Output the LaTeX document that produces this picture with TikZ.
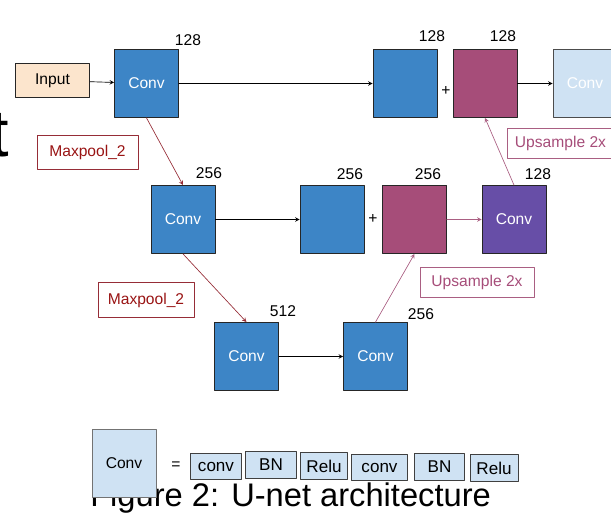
\documentclass[tikz,border=0pt]{standalone}
\usepackage{fontspec}
\setmainfont{Liberation Sans}
\definecolor{convblue}{RGB}{61,133,198}
\definecolor{addpink}{RGB}{166,77,121}
\definecolor{uppurple}{RGB}{103,78,167}
\definecolor{paleblue}{RGB}{207,226,243}
\definecolor{peach}{RGB}{252,229,205}
\definecolor{poolred}{RGB}{153,20,20}
\definecolor{poolline}{RGB}{150,45,55}
\definecolor{upline}{RGB}{170,95,130}

\begin{document}
\begin{tikzpicture}[x=0.75pt, y=-0.75pt, line cap=round, line join=round, >=stealth,
    txt/.style={font=\fontsize{11.7pt}{14pt}\selectfont},
    block/.style={draw=black!85, line width=0.6pt, minimum width=48pt, minimum height=51pt,
      inner sep=0pt, txt, text=white, fill=convblue},
    tag/.style={draw, line width=0.6pt, minimum height=26pt, inner sep=0pt, txt},
    num/.style={txt, inner sep=0pt},
    layer/.style={draw=black!75, fill=paleblue, line width=0.6pt, minimum width=38pt,
      minimum height=20pt, inner sep=0pt, font=\fontsize{12.8pt}{15pt}\selectfont}]
    \useasboundingbox (0,0) rectangle (611,513);

    \node[anchor=base east, inner sep=0pt, font=\fontsize{50pt}{50pt}\selectfont] (bigt) at (9,157) {t};

    \node[tag, draw=black!85, fill=peach, minimum width=56pt] (input) at (52.5,80.5) {Input};
    \node[block] (c1) at (146.5,83.5) {Conv};
    \node[block] (skip1) at (405,83.5) {};
    \node[block, fill=addpink] (add1) at (485,83.5) {};
    \node[block, fill=paleblue, draw=black!70] (out) at (585,83.5) {Conv};

    \node[block] (c2) at (183,219.5) {Conv};
    \node[block] (skip2) at (332,219.5) {};
    \node[block, fill=addpink] (add2) at (414.5,219.5) {};
    \node[block, fill=uppurple] (c5) at (514,219.5) {Conv};

    \node[block] (c3) at (246.5,356.5) {Conv};
    \node[block] (c4) at (375.5,356.5) {Conv};

    \node[num] (n1) at (188,40) {128};
    \node[num] (n2) at (432,36) {128};
    \node[num] (n3) at (503,36) {128};
    \node[num] (n4) at (209,173) {256};
    \node[num] (n5) at (350,174) {256};
    \node[num] (n6) at (428,174) {256};
    \node[num] (n7) at (538,174) {128};
    \node[num] (n8) at (283,311) {512};
    \node[num] (n9) at (421,314) {256};

    \node[num] (plus1) at (446,91) {+};
    \node[num] (plus2) at (373,219) {+};

    \node[tag, draw=poolline, text=poolred, minimum width=75.75pt] (pool1) at (87.5,152.5) {Maxpool\_2};
    \node[tag, draw=poolline, text=poolred, minimum width=72pt] (pool2) at (146,300) {Maxpool\_2};
    \node[tag, draw=upline, text=addpink, minimum width=80pt, minimum height=22.5pt] (up1) at (560.5,143) {Upsample 2x};
    \node[tag, draw=upline, text=addpink, minimum width=85.5pt, minimum height=22pt] (up2) at (477,282.5) {Upsample 2x};

    \draw[->, line width=0.5pt] (input) -- (c1);
    \draw[->, line width=0.5pt] (c1) -- (skip1);
    \draw[->, line width=0.5pt] (add1) -- (out);
    \draw[->, line width=0.5pt] (c2) -- (skip2);
    \draw[->, line width=0.5pt, upline] (add2) -- (c5);
    \draw[->, line width=0.5pt] (c3) -- (c4);

    \draw[->, line width=0.5pt, poolline] (c1.south) -- (c2.north);
    \draw[->, line width=0.5pt, poolline] (c2.south) -- (c3.north);
    \draw[->, line width=0.5pt, upline] (c4.north) -- (add2.south);
    \draw[->, line width=0.5pt, upline] (c5.north) -- (add1.south);

    \node[anchor=base west, inner sep=0pt, font=\fontsize{24.5pt}{28pt}\selectfont] (caption) at (90,507) {Figure 2: U-net architecture};
    \node[block, fill=paleblue, draw=black!55, text=black] (key) at (124,463.5) {Conv};
    \node[num] (eq) at (176,466) {=};
    \node[layer] (l1) at (216,466.5) {conv};
    \node[layer] (l2) at (271,465) {BN};
    \node[layer, minimum width=35pt] (l3) at (324,466) {Relu};
    \node[layer, minimum width=42pt] (l4) at (379.5,467.5) {conv};
    \node[layer] (l5) at (439.5,467) {BN};
    \node[layer, minimum width=36pt] (l6) at (494,468) {Relu};
  \end{tikzpicture}
\end{document}
